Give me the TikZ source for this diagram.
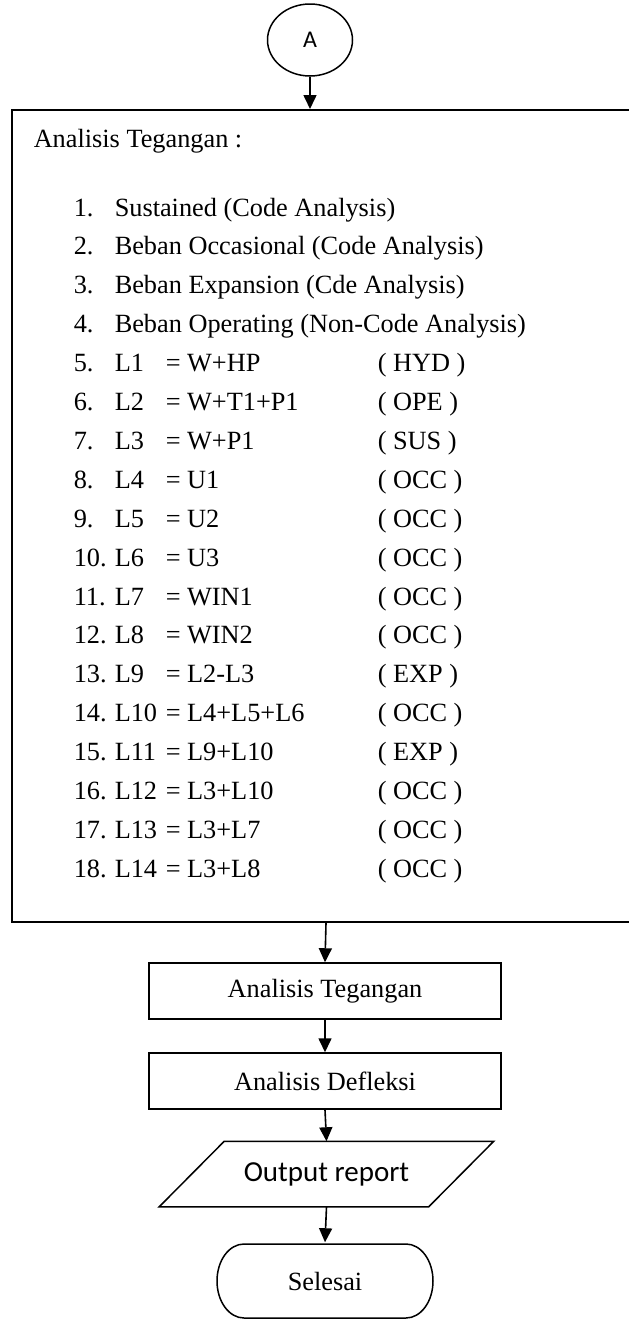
\documentclass[tikz,border=0pt]{standalone}
\usepackage{fontspec}
\setmainfont{Liberation Serif}
\newfontfamily\calib{Carlito}
\usetikzlibrary{arrows.meta,shapes.geometric,shapes.misc}
\begin{document}
\begin{tikzpicture}[x=1pt,y=-1pt,line width=1.5pt,
  flow/.style={-{Triangle[width=13pt,length=14pt]},line width=1.6pt},
  txt/.style={font=\fontsize{26.3}{30}\selectfont},
  proc/.style={draw,rectangle,minimum width=352pt,minimum height=56pt,inner sep=0pt,txt},
  lst/.style={anchor=base west,inner sep=0pt,txt}]
\useasboundingbox (0,0) rectangle (629,1320);
\fill[white] (0,0) rectangle (629,1320);
\node[draw,ellipse,minimum width=85pt,minimum height=72pt,inner sep=0pt,font=\calib\fontsize{24}{28}\selectfont] (A) at (310,40) {A};
\node[draw,rectangle,line width=2pt,minimum width=628pt,minimum height=812pt,inner sep=0pt] (big) at (326,516) {};
\draw[flow] (A.south) -- (A.south |- big.north);
\node[lst] (title) at (33,147) {Analisis Tegangan :};
\foreach \i/\t in {1/Sustained (Code Analysis),2/Beban Occasional (Code Analysis),3/Beban Expansion (Cde Analysis),4/Beban Operating (Non-Code Analysis)}{
  \node[lst] (n\i) at (73,{216+(\i-1)*38.9}) {\i.};
  \node[lst] (t\i) at (114,{216+(\i-1)*38.9}) {\t};
}
\foreach \i/\lab/\ex/\typ in {5/L1/W+HP/HYD,6/L2/W+T1+P1/OPE,7/L3/W+P1/SUS,8/L4/U1/OCC,9/L5/U2/OCC,10/L6/U3/OCC,11/L7/WIN1/OCC,12/L8/WIN2/OCC,13/L9/L2-L3/EXP,14/L10/L4+L5+L6/OCC,15/L11/L9+L10/EXP,16/L12/L3+L10/OCC,17/L13/L3+L7/OCC,18/L14/L3+L8/OCC}{
  \node[lst] (n\i) at (73,{216+(\i-1)*38.9}) {\i.};
  \node[lst] (lab\i) at (114,{216+(\i-1)*38.9}) {\lab};
  \node[lst] (eq\i) at (165,{216+(\i-1)*38.9}) {= \ex};
  \node[lst] (ty\i) at (377,{216+(\i-1)*38.9}) {( \typ{} )};
}
\node[proc] (b1) at (325,991) {Analisis Tegangan};
\node[proc] (b2) at (325,1081) {Analisis Defleksi};
\node[rectangle,minimum width=268pt,minimum height=64pt,inner sep=0pt,font=\calib\fontsize{29}{32}\selectfont] (out) at (326.5,1174) {Output report};
\draw ([xshift=32.5pt]out.north west) -- ([xshift=32.5pt]out.north east) -- ([xshift=-32.5pt]out.south east) -- ([xshift=-32.5pt]out.south west) -- cycle;
\node[rectangle,minimum width=216pt,minimum height=76pt,inner sep=0pt,txt] (end) at (325,1281) {Selesai};
\draw[shift={(end.center)}] (-81,-37) -- (81,-37) .. controls (95.9,-37) and (108,-20.5) .. (108,0) .. controls (108,20.5) and (95.9,37) .. (81,37) -- (-81,37) .. controls (-95.9,37) and (-108,20.5) .. (-108,0) .. controls (-108,-20.5) and (-95.9,-37) .. (-81,-37) -- cycle;
\draw[flow] (big.south) -- (b1.north);
\draw[flow] (b1.south) -- (b2.north);
\draw[flow] (b2.south) -- (out.north);
\draw[flow] (out.south) -- (end.north);
\end{tikzpicture}
\end{document}
